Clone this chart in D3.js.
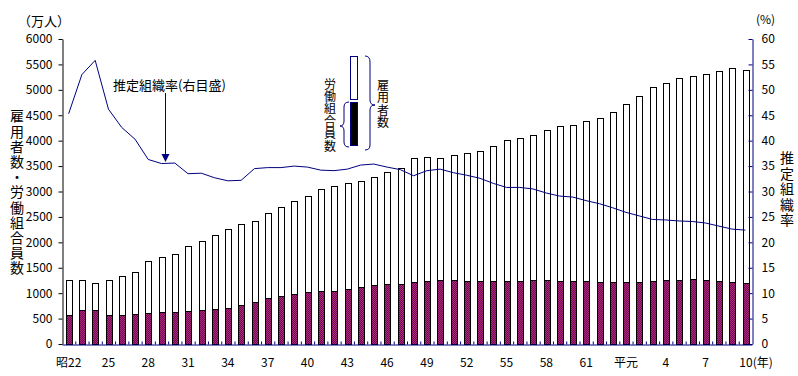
<!DOCTYPE html>
<html>
<head>
<meta charset="utf-8">
<script src="https://cdn.jsdelivr.net/npm/d3@7"></script>
<style>
  body { margin: 0; background: #fff; }
  text { font-family: "MS PGothic", "Noto Sans CJK JP", sans-serif; fill: #000; }
</style>
</head>
<body>
<div id="chart"></div>
<script>
// years: 昭22 (1947) .. 平10 (1998)
const years = [];
for (let i = 22; i <= 63; i++) years.push("昭" + i);
years.push("平元");
for (let i = 2; i <= 10; i++) years.push("平" + i);

// labels shown on the x axis (every 3 years)
const tickYears = ["昭22", "昭25", "昭28", "昭31", "昭34", "昭37", "昭40", "昭43", "昭46", "昭49",
  "昭52", "昭55", "昭58", "昭61", "平元", "平4", "平7", "平10"];
const tickNames = ["昭22", "25", "28", "31", "34", "37", "40", "43", "46", "49",
  "52", "55", "58", "61", "平元", "4", "7", "10(年)"];

// 雇用者数 (万人)
const employees = [1256, 1259, 1193, 1251, 1336, 1421, 1631, 1712, 1767, 1925,
  2020, 2138, 2256, 2370, 2413, 2571, 2689, 2807, 2912, 3043,
  3108, 3170, 3207, 3285, 3384, 3462, 3659, 3679, 3659, 3718,
  3758, 3797, 3895, 4013, 4053, 4112, 4204, 4283, 4302, 4381,
  4446, 4558, 4715, 4873, 5050, 5129, 5227, 5267, 5306, 5365,
  5424, 5385];

// 労働組合員数 (万人)
const members = [569, 668, 666, 577, 569, 584, 603, 627, 629, 646,
  676, 698, 708, 766, 836, 897, 936, 980, 1015, 1040,
  1048, 1086, 1125, 1161, 1180, 1188, 1210, 1246, 1259, 1251,
  1244, 1238, 1231, 1237, 1247, 1253, 1252, 1246, 1242, 1234,
  1227, 1223, 1223, 1226, 1240, 1254, 1266, 1270, 1261, 1245,
  1229, 1209];

// 推定組織率 (%)
const rate = [45.3, 53.0, 55.8, 46.2, 42.6, 40.3, 36.3, 35.5, 35.6, 33.5,
  33.6, 32.7, 32.1, 32.2, 34.5, 34.7, 34.7, 35.0, 34.8, 34.2,
  34.1, 34.4, 35.2, 35.4, 34.8, 34.3, 33.1, 34.1, 34.4, 33.7,
  33.2, 32.6, 31.6, 30.8, 30.8, 30.5, 29.7, 29.1, 28.9, 28.2,
  27.6, 26.8, 25.9, 25.2, 24.5, 24.4, 24.2, 24.1, 23.8, 23.2,
  22.6, 22.4];

const leftTicks = d3.range(0, 6001, 500);
const rightTicks = d3.range(0, 61, 5);

const W = 798, H = 376;
const pLeft = 62, pRight = 752, pTop = 39, pBottom = 344;
const navy = "#000080";

const svg = d3.select("#chart").append("svg")
  .attr("width", W).attr("height", H);

const defs = svg.append("defs");
const pat = defs.append("pattern")
  .attr("id", "check")
  .attr("width", 2).attr("height", 2)
  .attr("patternUnits", "userSpaceOnUse");
pat.append("rect").attr("width", 2).attr("height", 2).attr("fill", "#800060");
pat.append("rect").attr("width", 1).attr("height", 1).attr("fill", "#a03070");
pat.append("rect").attr("x", 1).attr("y", 1).attr("width", 1).attr("height", 1).attr("fill", "#a03070");

// scales
const x = d3.scaleBand().domain(years).range([pLeft, pRight]).paddingInner(0.58).paddingOuter(0.29);
const xEdge = d3.scaleLinear().domain([0, years.length]).range([pLeft, pRight]);
const yL = d3.scaleLinear().domain([0, 6000]).range([pBottom, pTop]);
const yR = d3.scaleLinear().domain([0, 60]).range([pBottom, pTop]);

// bars
const bw = Math.round(x.bandwidth());
svg.append("g").selectAll("rect")
  .data(years)
  .join("rect")
  .attr("x", (d) => Math.round(x(d)) + 0.5)
  .attr("y", (d, i) => Math.round(yL(employees[i])) + 0.5)
  .attr("width", bw)
  .attr("height", (d, i) => Math.round(yL(0)) - Math.round(yL(employees[i])))
  .attr("fill", "#fff")
  .attr("stroke", "#000");

svg.append("g").selectAll("rect")
  .data(years)
  .join("rect")
  .attr("x", (d) => Math.round(x(d)) + 0.5)
  .attr("y", (d, i) => Math.round(yL(members[i])) + 0.5)
  .attr("width", bw)
  .attr("height", (d, i) => Math.round(yL(0)) - Math.round(yL(members[i])))
  .attr("fill", "url(#check)")
  .attr("stroke", "#000");

// axes
const gL = svg.append("g")
  .attr("transform", `translate(${pLeft + 0.5},0)`)
  .call(d3.axisLeft(yL).tickValues(leftTicks).tickFormat(d3.format("d"))
    .tickSizeInner(4).tickSizeOuter(0).tickPadding(6));
gL.selectAll("text").style("font-size", "12px");

const gR = svg.append("g")
  .attr("transform", `translate(${pRight + 0.5},0)`)
  .call(d3.axisRight(yR).tickValues(rightTicks).tickSizeInner(-4).tickSizeOuter(0).tickPadding(9));
gR.select(".domain").attr("stroke", navy);
gR.selectAll(".tick line").attr("stroke", navy);
gR.selectAll("text").style("font-size", "12px");

const gB = svg.append("g")
  .attr("transform", `translate(0,${pBottom + 0.5})`)
  .call(d3.axisBottom(xEdge).tickValues(d3.range(1, years.length))
    .tickSizeInner(-3).tickSizeOuter(0).tickFormat(""));
gB.select(".domain").attr("stroke", navy);
gB.selectAll(".tick line").attr("stroke", navy);

const gX = svg.append("g")
  .attr("transform", `translate(0,${pBottom})`)
  .call(d3.axisBottom(x).tickValues(tickYears).tickSize(0).tickPadding(14)
    .tickFormat((d) => tickNames[tickYears.indexOf(d)]));
gX.select(".domain").remove();
gX.selectAll("text").style("font-size", "12px");
gX.selectAll(".tick").filter((d) => d === "平10").select("text")
  .attr("text-anchor", "start").attr("x", -6);

// rate line
const line = d3.line()
  .x((d, i) => x(years[i]) + x.bandwidth() / 2)
  .y((d) => yR(d));
svg.append("path")
  .datum(rate)
  .attr("d", line)
  .attr("fill", "none")
  .attr("stroke", navy)
  .attr("stroke-width", 1);

// unit labels
svg.append("text").attr("x", 18).attr("y", 26).style("font-size", "13px").text("（万人）");
svg.append("text").attr("x", 756).attr("y", 24).style("font-size", "12px").text("(%)");

// vertical texts, one text element each
function vtext(str, cx, yFirst, step, size) {
  svg.append("text")
    .attr("x", cx).attr("y", yFirst - size / 2)
    .style("writing-mode", "vertical-rl")
    .style("text-orientation", "upright")
    .style("letter-spacing", (step - size) + "px")
    .style("font-size", size + "px")
    .text(str);
}
vtext("雇用者数・労働組合員数", 17, 116, 15.2, 14);
vtext("推定組織率", 787, 158, 15.5, 14);

// annotation
svg.append("text").attr("x", 113).attr("y", 90).style("font-size", "13px").text("推定組織率(右目盛)");
svg.append("line")
  .attr("x1", 165.5).attr("y1", 93).attr("x2", 165.5).attr("y2", 156)
  .attr("stroke", navy).attr("stroke-width", 1);
svg.append("path")
  .attr("d", "M161.5,154 L169.5,154 L165.5,162 Z")
  .attr("fill", navy);

// legend
svg.append("rect").attr("x", 350.5).attr("y", 56.5).attr("width", 7).attr("height", 43)
  .attr("fill", "#fff").attr("stroke", navy);
svg.append("rect").attr("x", 350.5).attr("y", 102.5).attr("width", 7).attr("height", 43)
  .attr("fill", "#000").attr("stroke", navy);
// right brace (雇用者数)
svg.append("path")
  .attr("d", "M365,56 Q370,56 370,62 L370,100 Q370,105 375,105 Q370,105 370,110 L370,145 Q370,150 365,150")
  .attr("fill", "none").attr("stroke", navy);
// left brace (労働組合員数)
svg.append("path")
  .attr("d", "M349,102 Q344,102 344,107 L344,121 Q344,126 340,126 Q344,126 344,131 L344,142 Q344,147 349,147")
  .attr("fill", "none").attr("stroke", navy);
vtext("労働組合員数", 330, 84, 12.4, 12);
vtext("雇用者数", 383, 85, 12.5, 12);
</script>
</body>
</html>
